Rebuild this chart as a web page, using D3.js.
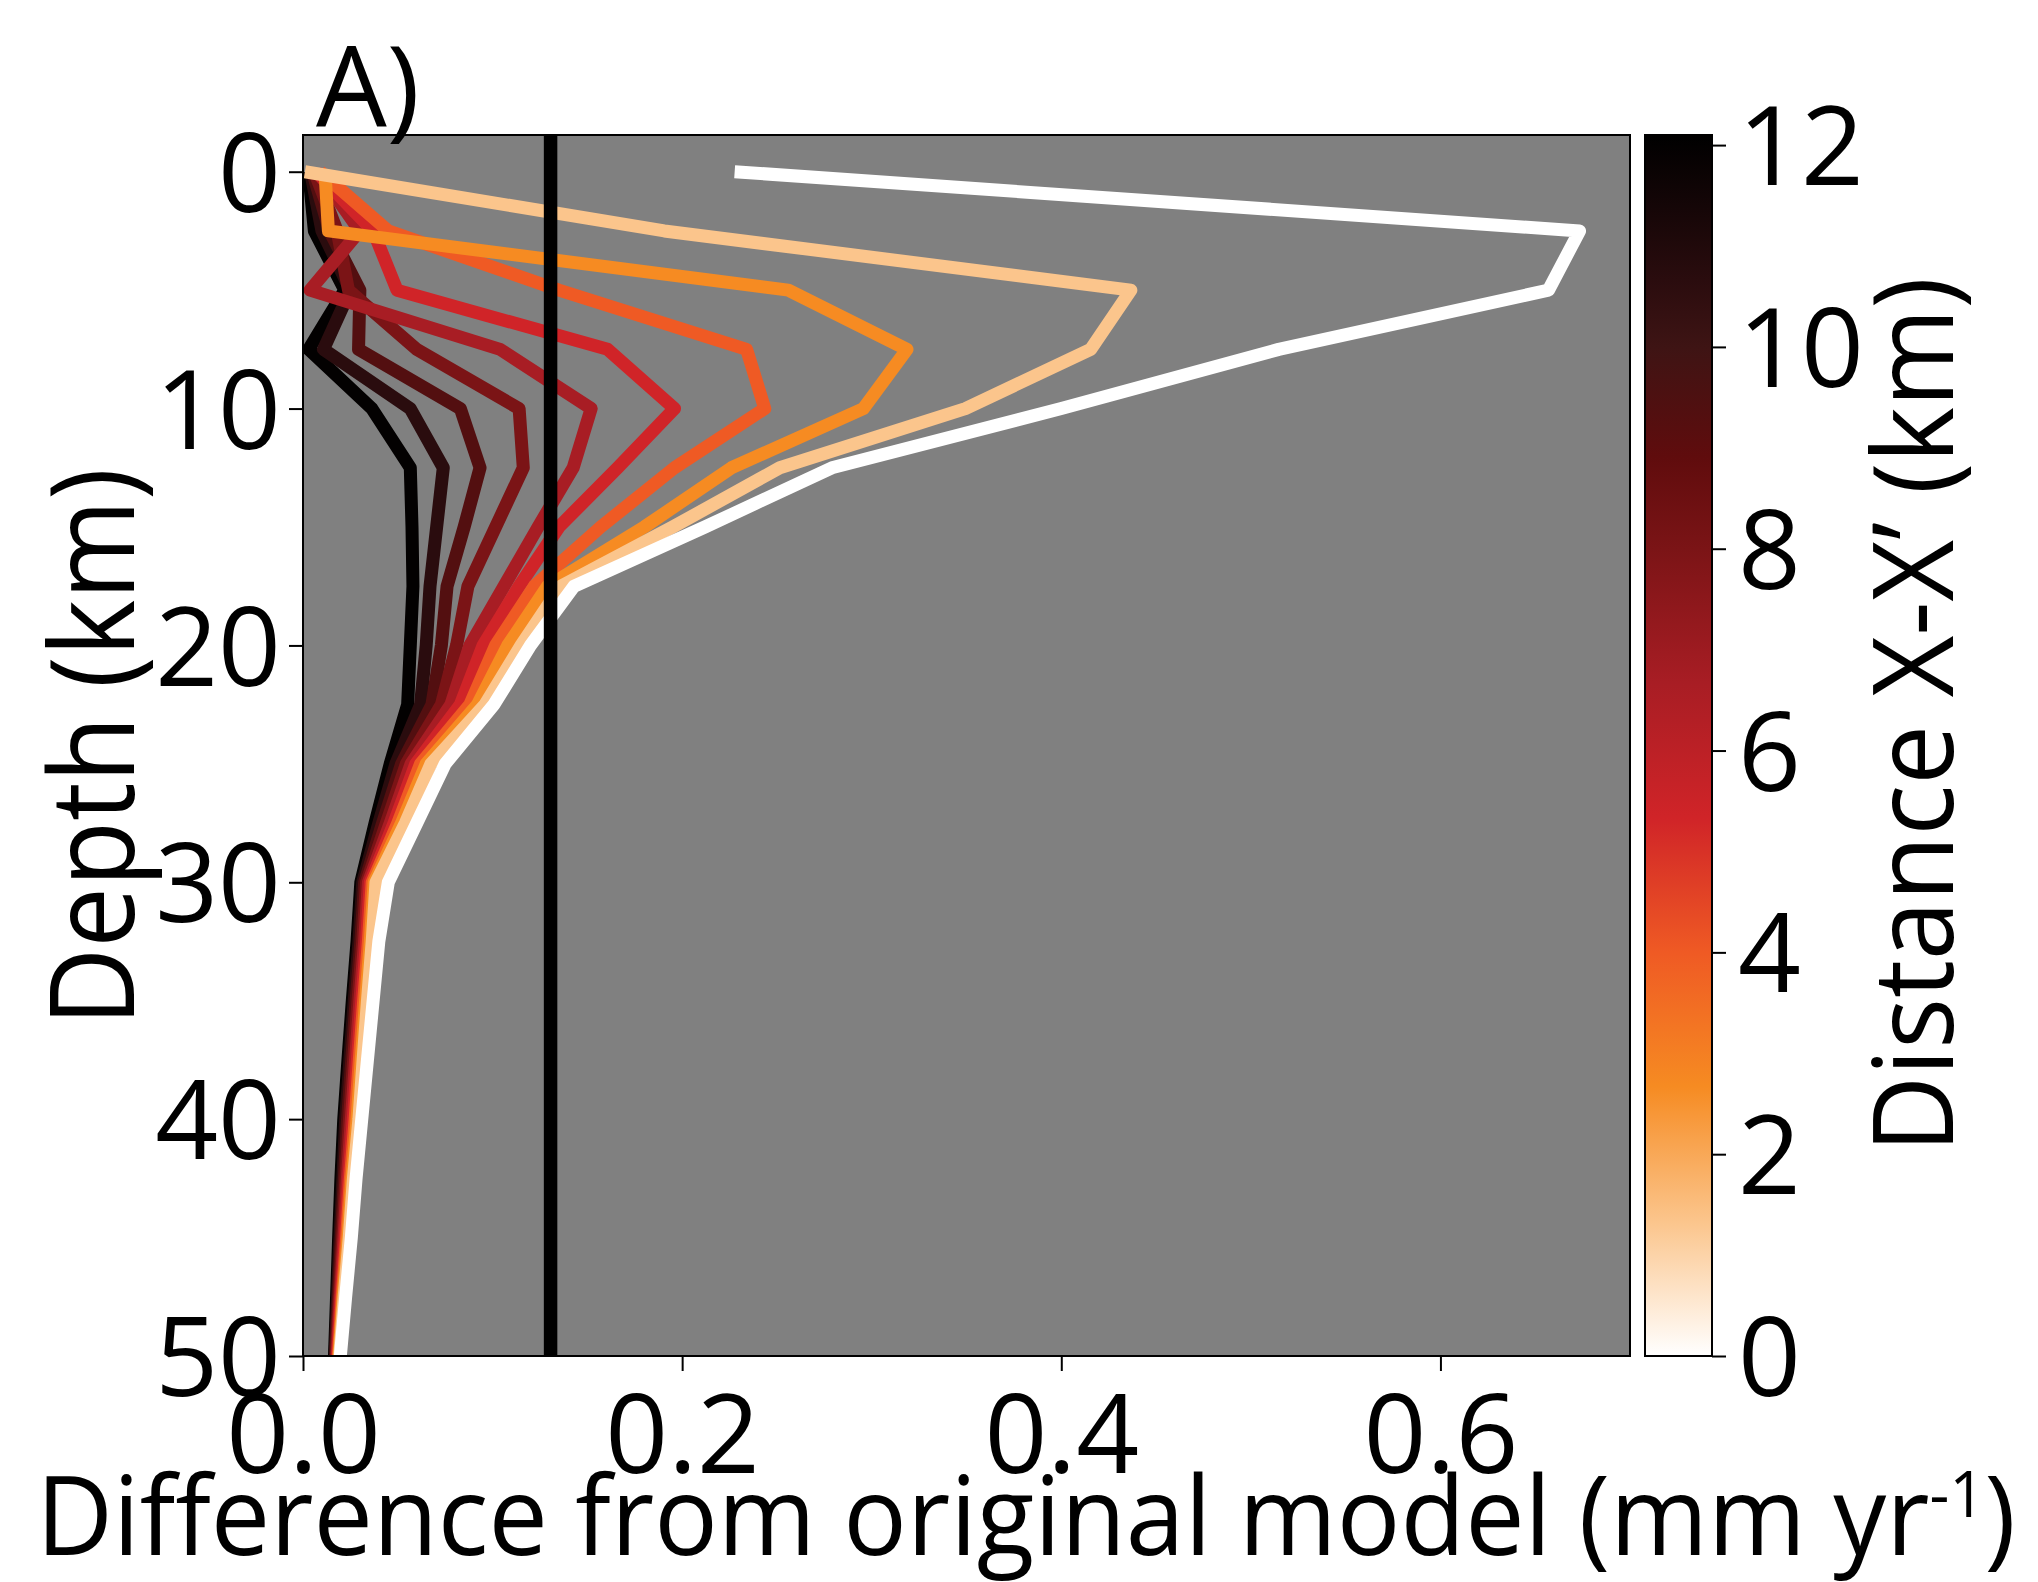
<!DOCTYPE html>
<html>
<head>
<meta charset="utf-8">
<script src="https://cdn.jsdelivr.net/npm/d3@7"></script>
<style>
  body { margin: 0; background: #fff; }
  svg text { font-family: "Open Sans", sans-serif; fill: #000; }
</style>
</head>
<body>
<svg id="chart" width="2038" height="1582"></svg>
<script>
// depth levels of every profile (km)
const depths = [0, 2.5, 5, 7.5, 10, 12.5, 15, 17.5, 20, 22.5, 25, 27.5, 30, 32.5, 35, 37.5, 40, 42.5, 45, 47.5, 50];

// distance along X-X' of each profile (km)
const distances = [0, 1.33, 2.67, 4, 5.33, 6.67, 8, 9.33, 10.67, 12];

// difference from original model (mm/yr) at each depth, one array per distance
const diff00 = [0.2277, 0.6734, 0.657, 0.5147, 0.400, 0.279, 0.212, 0.143, 0.120, 0.1007, 0.075, 0.060, 0.045, 0.040, 0.037, 0.034, 0.031, 0.028, 0.0255, 0.0225, 0.0197];
const diff01 = [0.001, 0.1906, 0.4367, 0.4155, 0.3494, 0.2515, 0.195, 0.136, 0.115, 0.096, 0.0675, 0.054, 0.0385, 0.0365, 0.034, 0.0317, 0.0295, 0.0266, 0.0244, 0.0217, 0.0194];
const diff02 = [0.0116, 0.0134, 0.256, 0.3186, 0.2956, 0.226, 0.180, 0.129, 0.108, 0.092, 0.065, 0.052, 0.0375, 0.0355, 0.033, 0.0307, 0.0285, 0.0258, 0.0237, 0.0212, 0.0190];
const diff03 = [0.009, 0.045, 0.135, 0.234, 0.2436, 0.196, 0.157, 0.122, 0.1016, 0.088, 0.062, 0.050, 0.0365, 0.0345, 0.032, 0.0297, 0.0275, 0.0250, 0.0230, 0.0207, 0.0187];
const diff04 = [0.007, 0.037, 0.0496, 0.1607, 0.196, 0.166, 0.135, 0.114, 0.095, 0.083, 0.0595, 0.048, 0.0355, 0.0335, 0.031, 0.0287, 0.0265, 0.0242, 0.0223, 0.0202, 0.0183];
const diff05 = [0.008, 0.030, 0.0037, 0.104, 0.152, 0.1425, 0.124, 0.106, 0.088, 0.078, 0.057, 0.046, 0.0345, 0.0325, 0.030, 0.0277, 0.0255, 0.0234, 0.0216, 0.0197, 0.0180];
const diff06 = [0.006, 0.018, 0.024, 0.060, 0.114, 0.1162, 0.1016, 0.087, 0.081, 0.073, 0.0545, 0.044, 0.0335, 0.0315, 0.029, 0.0267, 0.0245, 0.0226, 0.0209, 0.0192, 0.0176];
const diff07 = [0.005, 0.014, 0.030, 0.0293, 0.083, 0.0934, 0.085, 0.076, 0.073, 0.068, 0.052, 0.042, 0.0325, 0.0305, 0.028, 0.0257, 0.0235, 0.0218, 0.0202, 0.0187, 0.0173];
const diff08 = [0.004, 0.010, 0.025, 0.0108, 0.0566, 0.074, 0.0705, 0.067, 0.065, 0.062, 0.049, 0.040, 0.0315, 0.0295, 0.027, 0.0247, 0.0225, 0.021, 0.0195, 0.0182, 0.0169];
const diff09 = [0.003, 0.006, 0.022, 0.003, 0.0363, 0.0566, 0.0575, 0.058, 0.0566, 0.0552, 0.046, 0.038, 0.0305, 0.0285, 0.026, 0.0237, 0.0215, 0.020, 0.0188, 0.0177, 0.0166];

// vertical reference line
const refValue = 0.1306;

// tick labels
const xTicks = [0, 0.2, 0.4, 0.6];
const yTicks = [0, 10, 20, 30, 40, 50];
const cTicks = [0, 2, 4, 6, 8, 10, 12];

// colour map
const cmapStops = [0, 1.33, 2.67, 4, 5.33, 6.67, 8, 8.9, 10, 10.67, 12.1];
const cmapColors = ["#ffffff", "#fbc58c", "#f68b22", "#ef5a24", "#d02428", "#a81d24", "#7b1416", "#600c0d", "#3e1414", "#2a0c0e", "#000000"];

const profiles = [diff00, diff01, diff02, diff03, diff04, diff05, diff06, diff07, diff08, diff09];

const svg = d3.select("#chart");
const plot = { left: 303, right: 1630, top: 135, bottom: 1356 };
const cbar = { left: 1645, right: 1712 };

const x = d3.scaleLinear().domain([0, 0.7]).range([plot.left, plot.right]);
const y = d3.scaleLinear().domain([-1.55, 50]).range([plot.top, plot.bottom]);
const c = d3.scaleLinear().domain([0, 12.1]).range([plot.bottom, plot.top]);
const cmap = d3.scaleLinear().domain(cmapStops).range(cmapColors);

const defs = svg.append("defs");
defs.append("clipPath").attr("id", "clip")
  .append("rect")
  .attr("x", plot.left).attr("y", plot.top)
  .attr("width", plot.right - plot.left).attr("height", plot.bottom - plot.top);

// gray background
svg.append("rect")
  .attr("x", plot.left).attr("y", plot.top)
  .attr("width", plot.right - plot.left).attr("height", plot.bottom - plot.top)
  .attr("fill", "#808080");

// profiles, far ones first so the near ones end on top
const line = d3.line()
  .x((d) => x(d[0]))
  .y((d) => y(d[1]));

const order = d3.range(profiles.length).reverse();
svg.append("g")
  .attr("clip-path", "url(#clip)")
  .selectAll("path")
  .data(order)
  .enter()
  .append("path")
  .attr("d", (i) => line(profiles[i].map((v, k) => [v, depths[k]])))
  .attr("fill", "none")
  .attr("stroke", (i) => cmap(distances[i]))
  .attr("stroke-width", 13)
  .attr("stroke-linejoin", "round");

// reference line
svg.append("line")
  .attr("x1", x(refValue)).attr("x2", x(refValue))
  .attr("y1", plot.top).attr("y2", plot.bottom)
  .attr("stroke", "#000")
  .attr("stroke-width", 13.5);

// frame
svg.append("rect")
  .attr("x", plot.left).attr("y", plot.top)
  .attr("width", plot.right - plot.left).attr("height", plot.bottom - plot.top)
  .attr("fill", "none").attr("stroke", "#000").attr("stroke-width", 2);

// axes
const styleAxis = (g) => {
  g.select(".domain").remove();
  g.selectAll(".tick line").attr("stroke", "#000").attr("stroke-width", 2);
  g.selectAll(".tick text")
    .style("font-family", '"Open Sans", sans-serif')
    .attr("font-size", 110)
    .attr("fill", "#000");
};

const yAxis = svg.append("g")
  .attr("transform", `translate(${plot.left},0)`)
  .call(d3.axisLeft(y).tickValues(yTicks).tickSize(14).tickPadding(8))
  .call(styleAxis);
yAxis.selectAll(".tick text").attr("dy", "0.36em");

const xAxis = svg.append("g")
  .attr("transform", `translate(0,${plot.bottom})`)
  .call(d3.axisBottom(x).tickValues(xTicks).tickFormat(d3.format(".1f")).tickSize(15))
  .call(styleAxis);
xAxis.selectAll(".tick text").attr("y", 117).attr("dy", null);

// colour bar
const grad = defs.append("linearGradient")
  .attr("id", "cgrad")
  .attr("x1", 0).attr("y1", 1).attr("x2", 0).attr("y2", 0);
grad.selectAll("stop")
  .data(cmapStops)
  .enter()
  .append("stop")
  .attr("offset", (d) => d / 12.1)
  .attr("stop-color", (d, i) => cmapColors[i]);

svg.append("rect")
  .attr("x", cbar.left).attr("y", plot.top)
  .attr("width", cbar.right - cbar.left).attr("height", plot.bottom - plot.top)
  .attr("fill", "url(#cgrad)")
  .attr("stroke", "#000").attr("stroke-width", 2);

const cAxis = svg.append("g")
  .attr("transform", `translate(${cbar.right},0)`)
  .call(d3.axisRight(c).tickValues(cTicks).tickSize(14).tickPadding(12))
  .call(styleAxis);
cAxis.selectAll(".tick text").attr("dy", "0.36em");

// labels, squeezed horizontally to the width seen in the picture
const fitLabel = (text, targetWidth) => {
  const w = text.node().getBBox().width;
  return targetWidth / w;
};

const xLab = svg.append("g");
const xText = xLab.append("text")
  .attr("text-anchor", "middle")
  .attr("font-size", 110);
xText.append("tspan").text("Difference from original model (mm yr");
xText.append("tspan").attr("font-size", 64).attr("dy", -38).text("-1");
xText.append("tspan").attr("dy", 38).text(")");
const sx = fitLabel(xText, 1980);
xLab.attr("transform", `translate(1026,1555) scale(${sx},1)`);

const yLab = svg.append("g");
const yText = yLab.append("text")
  .attr("text-anchor", "middle")
  .attr("font-size", 117)
  .text("Depth (km)");
const sy = fitLabel(yText, 558);
yLab.attr("transform", `translate(134,747) rotate(-90) scale(${sy},1)`);

const cLab = svg.append("g");
const cText = cLab.append("text")
  .attr("text-anchor", "middle")
  .attr("font-size", 112)
  .text("Distance X-X\u2019 (km)");
const sc = fitLabel(cText, 876);
cLab.attr("transform", `translate(1953,715) rotate(-90) scale(${sc},1)`);

svg.append("text")
  .attr("x", 316).attr("y", 126)
  .attr("font-size", 112)
  .text("A)");
</script>
</body>
</html>
